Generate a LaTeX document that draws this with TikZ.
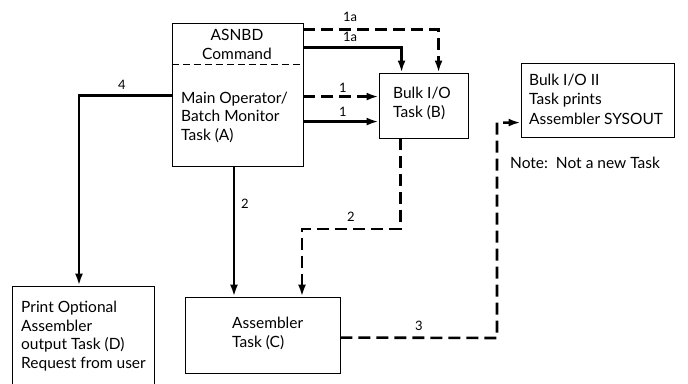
\documentclass[tikz,border=0pt]{standalone}
\usepackage{fontspec}
\setmainfont{Lato}
\usetikzlibrary{positioning,arrows.meta,calc}

\begin{document}
\begin{tikzpicture}[
    x=1pt, y=-1pt,
    >={Latex[length=12pt,width=8pt]},
    every node/.style={font=\fontsize{15.5}{18.5}\selectfont},
    task/.style={draw, line width=0.9pt, inner sep=0pt},
    txt/.style={align=left, anchor=base west, inner sep=0pt},
    flow/.style={line width=2.6pt},
    dflow/.style={line width=2.6pt, dash pattern=on 12pt off 6pt},
    lbl/.style={inner sep=0pt, anchor=base, font=\fontsize{13}{15}\selectfont},
]
\useasboundingbox (0,0) rectangle (688,383);

% task boxes
\node[task, minimum width=131, minimum height=143] (A)      at (237.5,94.5) {};
\node[task, minimum width=89,  minimum height=65]  (B)      at (423.5,105.5) {};
\node[task, minimum width=153, minimum height=74]  (bulkii) at (597.5,100) {};
\node[task, minimum width=155, minimum height=76]  (C)      at (262.5,335) {};
\node[task, minimum width=142, minimum height=109] (D)      at (83,340.5) {};
\draw[line width=0.9pt, dash pattern=on 7pt off 4pt]
    ($(A.north west)+(0,42)$) -- ($(A.north east)+(0,42)$);

% texts (anchored at the baseline of the last line)
\node[align=center, anchor=base, inner sep=0pt] (cmd) at (237,59) {ASNBD\\Command};
\node[txt] (mainop) at (181,140) {Main Operator/\\Batch Monitor\\Task (A)};
\node[txt] (bulkt)  at (393,117) {Bulk I/O\\Task (B)};
\node[txt, font=\fontsize{15.5}{19.5}\selectfont] (iitxt) at (529,124) {Bulk I/O II\\Task prints\\Assembler SYSOUT};
\node[txt] (note)   at (510,168) {Note:\ \ Not a new Task};
\node[txt] (asmt)   at (232,347) {Assembler\\Task (C)};
\node[txt] (prtt)   at (21,368)  {Print Optional\\Assembler\\output Task (D)\\Request from user};

% connectors
\draw[dflow,->] ($(A.north east)+(0,7)$)  -| ($(B.north west)+(60,0)$);
\draw[flow,->]  ($(A.north east)+(0,25)$) -| ($(B.north west)+(23,0)$);
\draw[dflow,->] ($(A.north east)+(0,74)$) -- ($(B.north west)+(0,24)$);
\draw[flow,->]  ($(A.north east)+(0,99)$) -- ($(B.north west)+(0,49)$);
\draw[flow,->]  ($(A.north west)+(0,73)$) -| ($(D.north)+(-4,0)$);
\coordinate (a2) at ($(A.south)+(-3.5,0)$);
\draw[flow,->]  (a2) -- (a2 |- C.north);
\coordinate (t2) at (302,229);
\draw[dflow,->] ($(B.south west)+(22,0)$) |- (t2) -- (t2 |- C.north);
\coordinate (t3) at (497,338);
\draw[dflow,->] ($(C.north east)+(0,41)$) -- (t3) |- ($(bulkii.north west)+(0,60)$);

% connector labels
\node[lbl] (l1a)  at (350,21)  {1a};
\node[lbl] (l1b)  at (350,41)  {1a};
\node[lbl] (l1c)  at (343,92)  {1};
\node[lbl] (l1d)  at (343,116) {1};
\node[lbl] (l4)   at (122,89)  {4};
\node[lbl] (l2a)  at (245,208) {2};
\node[lbl] (l2b)  at (351,221) {2};
\node[lbl] (l3)   at (419,330) {3};

\end{tikzpicture}
\end{document}
